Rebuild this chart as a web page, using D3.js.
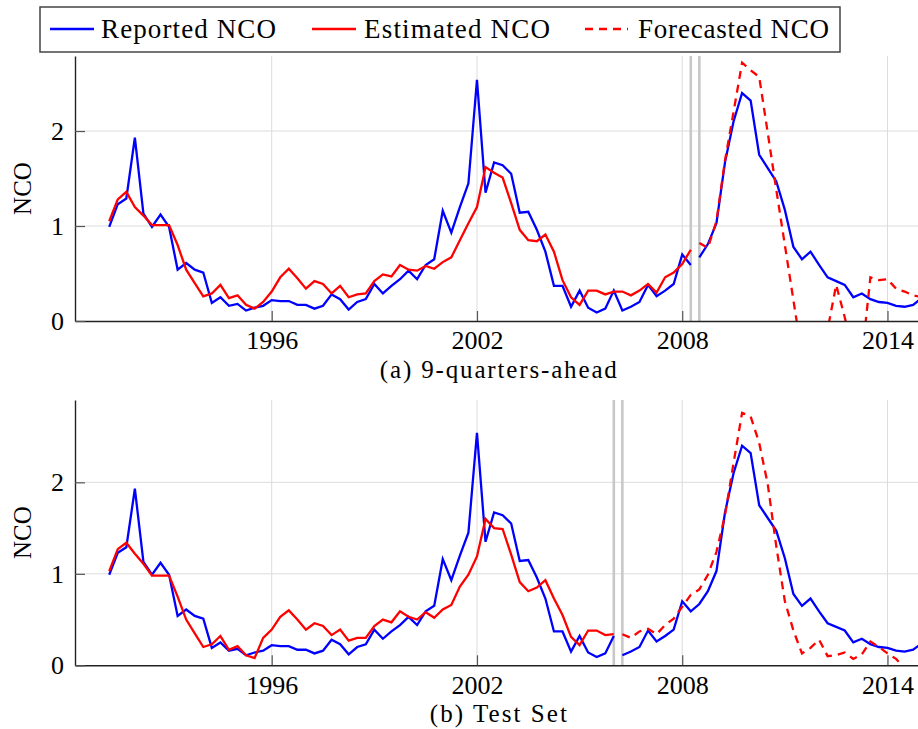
<!DOCTYPE html>
<html><head><meta charset="utf-8">
<script src="https://cdn.jsdelivr.net/npm/d3@7"></script>
<style>
body{margin:0;background:#fff}
svg{display:block}
svg text{font-family:'Liberation Serif','DejaVu Serif',serif !important;fill:#000}
</style>
</head><body>
<svg id="chart" width="918" height="729"></svg>
<script>
// ---------- data ----------
const quarters = [
"1991Q2","1991Q3","1991Q4",
"1992Q1","1992Q2","1992Q3","1992Q4","1993Q1","1993Q2","1993Q3","1993Q4",
"1994Q1","1994Q2","1994Q3","1994Q4","1995Q1","1995Q2","1995Q3","1995Q4",
"1996Q1","1996Q2","1996Q3","1996Q4","1997Q1","1997Q2","1997Q3","1997Q4",
"1998Q1","1998Q2","1998Q3","1998Q4","1999Q1","1999Q2","1999Q3","1999Q4",
"2000Q1","2000Q2","2000Q3","2000Q4","2001Q1","2001Q2","2001Q3","2001Q4",
"2002Q1","2002Q2","2002Q3","2002Q4","2003Q1","2003Q2","2003Q3","2003Q4",
"2004Q1","2004Q2","2004Q3","2004Q4","2005Q1","2005Q2","2005Q3","2005Q4",
"2006Q1","2006Q2","2006Q3","2006Q4","2007Q1","2007Q2","2007Q3","2007Q4",
"2008Q1","2008Q2","2008Q3","2008Q4","2009Q1","2009Q2","2009Q3","2009Q4",
"2010Q1","2010Q2","2010Q3","2010Q4","2011Q1","2011Q2","2011Q3","2011Q4",
"2012Q1","2012Q2","2012Q3","2012Q4","2013Q1","2013Q2","2013Q3","2013Q4",
"2014Q1","2014Q2","2014Q3","2014Q4","2015Q1"];

const reportedNCO = [
0.99,1.23,1.29,1.93,1.13,0.99,1.12,0.99,0.54,0.61,
0.54,0.51,0.19,0.25,0.16,0.18,0.11,0.14,0.16,0.22,
0.21,0.21,0.17,0.17,0.13,0.16,0.28,0.23,0.12,0.20,
0.23,0.39,0.29,0.37,0.44,0.53,0.44,0.59,0.65,1.16,
0.93,1.20,1.45,2.54,1.35,1.67,1.64,1.55,1.14,1.15,
0.96,0.73,0.37,0.37,0.15,0.32,0.14,0.09,0.13,0.32,
0.11,0.15,0.20,0.38,0.26,0.32,0.39,0.70,0.59,0.67,
0.81,1.03,1.67,2.10,2.40,2.32,1.75,1.61,1.47,1.17,
0.78,0.65,0.73,0.59,0.46,0.42,0.38,0.25,0.29,0.23,
0.20,0.19,0.16,0.15,0.17,0.24];

// panel (a): 9-quarters-ahead
const estimatedA = [
1.05,1.28,1.36,1.20,1.11,1.01,1.01,1.01,0.80,0.54,
0.40,0.26,0.29,0.38,0.24,0.27,0.17,0.13,0.20,0.31,
0.46,0.55,0.45,0.34,0.42,0.39,0.29,0.37,0.25,0.28,
0.29,0.42,0.49,0.47,0.59,0.54,0.53,0.58,0.55,0.62,
0.67,0.85,1.03,1.20,1.62,1.56,1.51,1.24,0.96,0.85,
0.84,0.91,0.73,0.43,0.25,0.17,0.32,0.32,0.28,0.31,
0.31,0.27,0.32,0.39,0.30,0.46,0.51,0.60,0.75];
const forecastA = [
0.82,0.77,1.05,1.69,2.20,2.72,2.64,2.57,1.98,1.38,
0.80,0.22,-0.36,-0.70,-0.50,-0.09,0.38,0.04,-0.35,-0.39,
0.46,0.43,0.44,0.34,0.31,0.27,0.25];

// panel (b): test set
const estimatedB = [
1.03,1.27,1.34,1.22,1.11,0.98,0.98,0.98,0.75,0.50,
0.35,0.20,0.23,0.32,0.17,0.21,0.11,0.08,0.30,0.39,
0.53,0.60,0.50,0.39,0.46,0.43,0.33,0.39,0.27,0.30,
0.30,0.43,0.50,0.47,0.59,0.53,0.50,0.58,0.52,0.61,
0.66,0.86,0.99,1.19,1.60,1.50,1.49,1.21,0.91,0.81,
0.85,0.93,0.73,0.55,0.31,0.22,0.38,0.38,0.33,0.34];
const forecastB = [
0.34,0.30,0.37,0.40,0.34,0.44,0.51,0.64,0.77,0.83,
0.99,1.24,1.64,2.21,2.76,2.72,2.43,1.98,1.30,0.70,
0.38,0.13,0.19,0.28,0.10,0.11,0.14,0.07,0.12,0.26,
0.20,0.13,0.07,-0.03,-0.12,-0.20];

const xTickValues = [1996, 2002, 2008, 2014];
const yTickValues = [0, 1, 2];
const legendLabels = ["Reported NCO", "Estimated NCO", "Forecasted NCO"];
const captions = ["(a) 9-quarters-ahead", "(b) Test Set"];
const yLabel = "NCO";

// ---------- drawing ----------
const FONT = "'Liberation Serif','DejaVu Serif',serif";
const svg = d3.select("#chart");
const times = quarters.map(q => +q.slice(0, 4) + (+q.slice(5) - 1) / 4);

const left = 75, right = 921.7;
const x = d3.scaleLinear().domain([1990.25, 2015]).range([left, right]);

const panels = [
  {top: 56, bottom: 321, ymax: 2.79, est: estimatedA, fc: forecastA, caption: captions[0], capW: 237},
  {top: 400, bottom: 665.3, ymax: 2.9, est: estimatedB, fc: forecastB, caption: captions[1], capW: 137}
];

const BLUE = "#0000ff", RED = "#ff0000";

panels.forEach((p, i) => {
  const y = d3.scaleLinear().domain([0, p.ymax]).range([p.bottom, p.top]);
  const g = svg.append("g");
  const clipId = "clip" + i;
  svg.append("clipPath").attr("id", clipId).append("rect")
    .attr("x", left).attr("y", p.top).attr("width", right - left).attr("height", p.bottom - p.top);

  // grid
  g.append("g").selectAll("line").data(yTickValues.filter(v => v > 0)).join("line")
    .attr("x1", left).attr("x2", right).attr("y1", d => y(d)).attr("y2", d => y(d))
    .attr("stroke", "#dcdcdc").attr("stroke-width", 1);
  g.append("g").selectAll("line").data(xTickValues).join("line")
    .attr("x1", d => x(d)).attr("x2", d => x(d)).attr("y1", p.top).attr("y2", p.bottom)
    .attr("stroke", "#dcdcdc").attr("stroke-width", 1);

  // forecast boundary markers
  const split = p.est.length;
  g.append("g").selectAll("line").data([times[split - 1], times[split]]).join("line")
    .attr("x1", d => x(d)).attr("x2", d => x(d)).attr("y1", p.top).attr("y2", p.bottom)
    .attr("stroke", "#c8c8c8").attr("stroke-width", 2.6);

  const line = d3.line().x(d => x(d[0])).y(d => y(d[1]));
  const plot = g.append("g").attr("clip-path", `url(#${clipId})`);
  const rep1 = reportedNCO.slice(0, split).map((v, k) => [times[k], v]);
  const rep2 = reportedNCO.slice(split).map((v, k) => [times[split + k], v]);
  [rep1, rep2].forEach(seg => plot.append("path").attr("d", line(seg))
    .attr("fill", "none").attr("stroke", BLUE).attr("stroke-width", 2.3));
  plot.append("path").attr("d", line(p.est.map((v, k) => [times[k], v])))
    .attr("fill", "none").attr("stroke", RED).attr("stroke-width", 2.3);
  plot.append("path").attr("d", line(p.fc.map((v, k) => [times[split + k], v])))
    .attr("fill", "none").attr("stroke", RED).attr("stroke-width", 2.3)
    .attr("stroke-dasharray", "8,6");

  // axes
  const xa = g.append("g").attr("transform", `translate(0,${p.bottom})`)
    .call(d3.axisBottom(x).tickValues(xTickValues).tickFormat(d3.format("d"))
      .tickSizeInner(-10).tickSizeOuter(0).tickPadding(10));
  xa.attr("font-family", FONT);
  xa.select(".domain").attr("stroke", "#222").attr("stroke-width", 1.4);
  xa.selectAll(".tick line").attr("stroke", "#555").attr("stroke-width", 1.2);
  xa.selectAll(".tick text").attr("font-size", 26).attr("font-family", FONT);

  const ya = g.append("g").attr("transform", `translate(${left},0)`)
    .call(d3.axisLeft(y).tickValues(yTickValues).tickFormat(d3.format("d"))
      .tickSizeInner(-10).tickSizeOuter(0).tickPadding(11));
  ya.attr("font-family", FONT);
  ya.select(".domain").attr("stroke", "#222").attr("stroke-width", 1.4);
  ya.selectAll(".tick line").attr("stroke", "#555").attr("stroke-width", 1.2);
  ya.selectAll(".tick text").attr("font-size", 26).attr("font-family", FONT);

  g.append("text").attr("transform", `translate(31,${(p.top + p.bottom) / 2}) rotate(-90)`)
    .attr("text-anchor", "middle").attr("font-family", FONT).attr("font-size", 25).text(yLabel);

  g.append("text").attr("x", (left + right) / 2).attr("y", p.bottom + 57)
    .attr("text-anchor", "middle").attr("font-family", FONT).attr("font-size", 25)
    .attr("textLength", p.capW).attr("lengthAdjust", "spacing").text(p.caption);
});

// legend
const lg = svg.append("g");
lg.append("rect").attr("x", 40).attr("y", 7).attr("width", 800).attr("height", 45)
  .attr("fill", "#fff").attr("stroke", "#444").attr("stroke-width", 1.5);
const items = [
  {x1: 50, x2: 94, tx: 101, w: 175, color: BLUE, dash: null},
  {x1: 312, x2: 356, tx: 364, w: 186, color: RED, dash: null},
  {x1: 585, x2: 628, tx: 638, w: 191, color: RED, dash: "8,6"}
];
items.forEach((it, i) => {
  lg.append("line").attr("x1", it.x1).attr("x2", it.x2).attr("y1", 29).attr("y2", 29)
    .attr("stroke", it.color).attr("stroke-width", 2.6).attr("stroke-dasharray", it.dash);
  lg.append("text").attr("x", it.tx).attr("y", 38).attr("font-family", FONT).attr("font-size", 27)
    .attr("textLength", it.w).attr("lengthAdjust", "spacing").text(legendLabels[i]);
});
</script>
</body></html>
